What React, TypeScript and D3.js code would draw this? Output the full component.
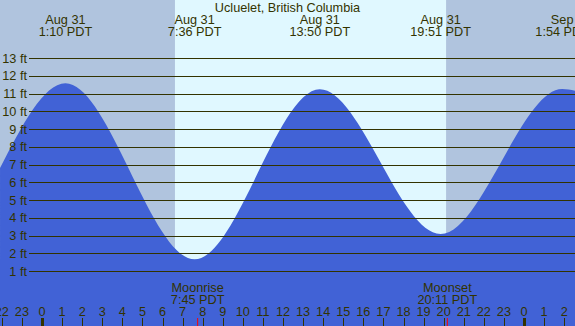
import React from 'react';
import * as d3 from 'd3';

const W = 575;
const H = 326;

// tide curve samples: hours from Aug 31 00:00 PDT, heights in ft (edges + extremes)
const tideHours = [-2.09, 1.167, 7.6, 13.833, 19.85, 25.9, 26.54];
const tideFeet = [6.8, 11.58, 1.66, 11.24, 3.09, 11.26, 11.16];

// labelled extremes along the top
const extremeHours = [1.167, 7.6, 13.833, 19.85, 25.9];
const extremeDates = ['Aug 31', 'Aug 31', 'Aug 31', 'Aug 31', 'Sep'];
const extremeTimes = ['1:10 PDT', '7:36 PDT', '13:50 PDT', '19:51 PDT', '1:54 PDT'];

const sunrise = 6.62;
const sunset = 20.12;

const moonHours = [7.75, 20.183];
const moonNames = ['Moonrise', 'Moonset'];
const moonTimes = ['7:45 PDT', '20:11 PDT'];

const feetTicks = d3.range(1, 14);
const hourTicks = d3.range(-2, 27);

const ink = '#333300';
const nightColor = '#b0c4de';
const dayColor = '#e0f8ff';
const waterColor = '#4162d6';

export default function App() {
  const x = d3.scaleLinear().domain([0, 24]).range([42, 524]);
  const y = d3.scaleLinear().domain([0, 13]).range([288.8, 58]);

  const pts = tideHours.map((h, i) => [h, tideFeet[i]] as [number, number]);
  const area = d3
    .area<[number, number]>()
    .x((d) => x(d[0]))
    .y0(H)
    .y1((d) => y(d[1]))
    .curve(d3.curveMonotoneX)(pts);

  const font = { fontFamily: '"Liberation Sans", Arial, sans-serif', fontSize: 12.7 };

  return (
    <svg width={W} height={H} style={{ position: 'absolute', left: 0, top: 0 }}>
      <rect x={0} y={0} width={W} height={H} fill={nightColor} />
      <rect x={x(sunrise)} y={0} width={x(sunset) - x(sunrise)} height={H} fill={dayColor} />
      <path d={area ?? ''} fill={waterColor} />

      {feetTicks.map((f) => (
        <g key={f}>
          <line x1={29} x2={W} y1={Math.round(y(f)) + 0.5} y2={Math.round(y(f)) + 0.5} stroke={ink} strokeWidth={1.2} />
          <text x={27} y={y(f) + 4.5} textAnchor="end" fill={ink} style={font}>
            {f} ft
          </text>
        </g>
      ))}

      <text x={W / 2} y={12} textAnchor="middle" fill={ink} style={font}>
        Ucluelet, British Columbia
      </text>

      {extremeHours.map((h, i) => (
        <g key={h} style={font} fill={ink}>
          <text x={x(h)} y={24} textAnchor="middle">{extremeDates[i]}</text>
          <text x={x(h)} y={36} textAnchor="middle">{extremeTimes[i]}</text>
        </g>
      ))}

      {moonHours.map((h, i) => (
        <g key={h} style={font} fill={ink}>
          <text x={x(h)} y={292} textAnchor="middle">{moonNames[i]}</text>
          <text x={x(h)} y={303.5} textAnchor="middle">{moonTimes[i]}</text>
        </g>
      ))}

      {hourTicks.map((h) => {
        const hr = ((h % 24) + 24) % 24;
        const midnight = hr === 0;
        return (
          <g key={h}>
            <text x={x(h)} y={315.5} textAnchor="middle" fill={ink} style={font}>
              {hr}
            </text>
            <line
              x1={Math.round(x(h)) + 0.5}
              x2={Math.round(x(h)) + 0.5}
              y1={318}
              y2={H}
              stroke={ink}
              strokeWidth={midnight ? 3 : 1}
            />
          </g>
        );
      })}

      {moonHours.map((h) => (
        <line key={'m' + h} x1={x(h)} x2={x(h)} y1={318} y2={H} stroke="#ff0000" strokeWidth={1} />
      ))}
    </svg>
  );
}
